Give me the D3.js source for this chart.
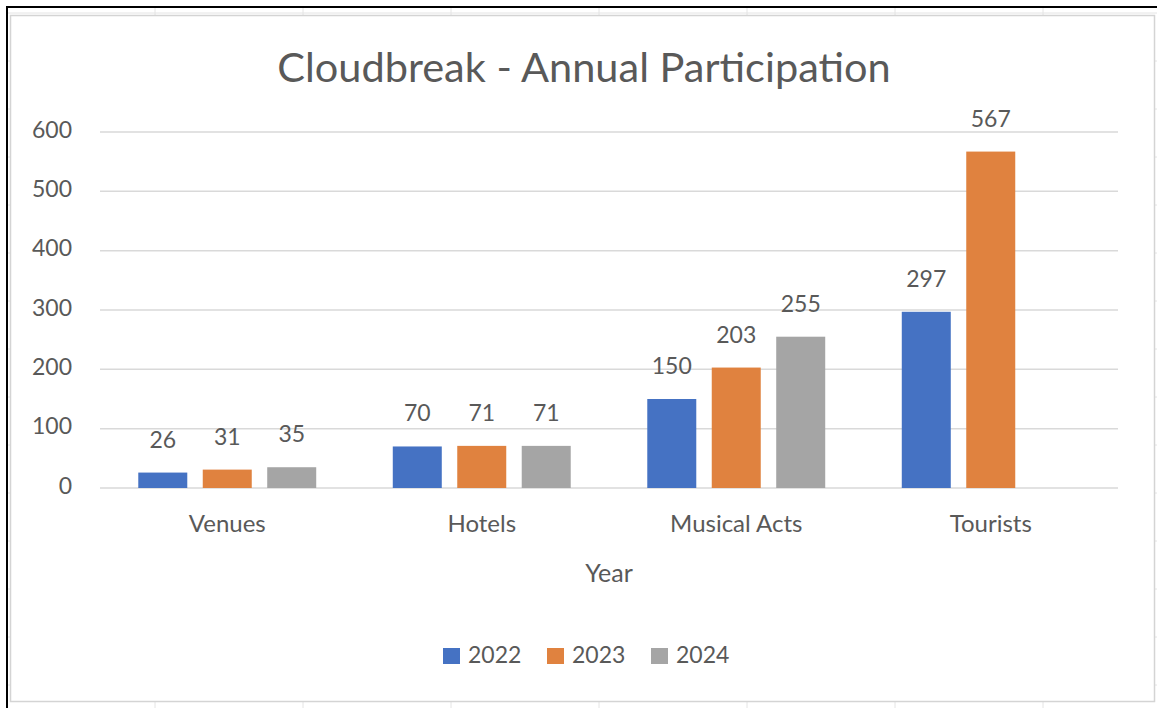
<!DOCTYPE html>
<html>
<head>
<meta charset="utf-8">
<script src="https://cdn.jsdelivr.net/npm/d3@7"></script>
<style>
  body { margin: 0; background: #fff; overflow: hidden; }
  svg { display: block; }
  svg text { font-family: Lato, "Open Sans", sans-serif; fill: #595959; }
</style>
</head>
<body>
<div id="chartHolder"></div>
<script>
const categories = ["Venues", "Hotels", "Musical Acts", "Tourists"];
const years = ["2022", "2023", "2024"];
const values2022 = [26, 70, 150, 297];
const values2023 = [31, 71, 203, 567];
const values2024 = [35, 71, 255, null];
const yTicks = [0, 100, 200, 300, 400, 500, 600];
const colors = ["#4572C3", "#E0823F", "#A5A5A5"];

const width = 1157;
const height = 708;

const svg = d3.select("#chartHolder")
  .append("svg")
  .attr("width", width)
  .attr("height", height);

// sheet grid behind the chart box
const colLines = d3.range(155, width, 148);
const rowLines = d3.range(13, height, 48);
svg.append("g").selectAll("line").data(colLines).enter().append("line")
  .attr("x1", d => d).attr("x2", d => d).attr("y1", 8).attr("y2", height)
  .attr("stroke", "#E4E4E4").attr("stroke-width", 1);
svg.append("g").selectAll("line").data(rowLines).enter().append("line")
  .attr("x1", 8).attr("x2", width).attr("y1", d => d).attr("y2", d => d)
  .attr("stroke", "#E4E4E4").attr("stroke-width", 1);

// chart box
svg.append("rect")
  .attr("x", 10.5).attr("y", 15.5)
  .attr("width", 1144).attr("height", 686)
  .attr("fill", "#fff")
  .attr("stroke", "#D4D4D4")
  .attr("stroke-width", 1.5);

// black frame lines
svg.append("line").attr("x1", 6).attr("x2", width).attr("y1", 7).attr("y2", 7)
  .attr("stroke", "#000").attr("stroke-width", 2);
svg.append("line").attr("x1", 7).attr("x2", 7).attr("y1", 6).attr("y2", height)
  .attr("stroke", "#000").attr("stroke-width", 2);

const plotLeft = 100, plotRight = 1118, plotTop = 132, plotBottom = 488;

const x0 = d3.scaleBand()
  .domain(categories)
  .range([plotLeft, plotRight])
  .paddingInner(0.24)
  .paddingOuter(0.12);

const x1 = d3.scaleBand()
  .domain(years)
  .range([0, x0.bandwidth()])
  .paddingInner(0.24)
  .paddingOuter(0.12);

const yScale = d3.scaleLinear()
  .domain([0, 600])
  .range([plotBottom, plotTop]);

// gridlines
svg.append("g").selectAll("line").data(yTicks).enter().append("line")
  .attr("x1", plotLeft).attr("x2", plotRight)
  .attr("y1", d => yScale(d)).attr("y2", d => yScale(d))
  .attr("stroke", "#D9D9D9").attr("stroke-width", 1.5);

// y axis labels
const yAxis = d3.axisLeft(yScale).tickValues(yTicks).tickSize(0).tickPadding(0);
const yG = svg.append("g")
  .attr("transform", `translate(72,0)`)
  .call(yAxis);
yG.select(".domain").remove();
yG.selectAll("text")
  .attr("dy", null)
  .attr("y", 5)
  .style("font-size", "23px")
  .style("font-family", "Lato, sans-serif")
  .attr("fill", "#595959");

// x axis labels
const xAxis = d3.axisBottom(x0).tickSize(0);
const xG = svg.append("g")
  .attr("transform", `translate(0,${plotBottom})`)
  .call(xAxis);
xG.select(".domain").remove();
xG.selectAll("text")
  .attr("dy", null)
  .attr("y", 44)
  .style("font-size", "24px")
  .style("font-family", "Lato, sans-serif")
  .attr("fill", "#595959");

// bars
const series = [values2022, values2023, values2024];
const rows = [];
categories.forEach((c, i) => {
  years.forEach((yr, j) => {
    const v = series[j][i];
    if (v != null) rows.push({ cat: c, year: yr, value: v, color: colors[j] });
  });
});

svg.append("g").selectAll("rect").data(rows).enter().append("rect")
  .attr("x", d => x0(d.cat) + x1(d.year))
  .attr("y", d => yScale(d.value))
  .attr("width", x1.bandwidth())
  .attr("height", d => plotBottom - yScale(d.value))
  .attr("fill", d => d.color);

svg.append("g").selectAll("text").data(rows).enter().append("text")
  .attr("x", d => x0(d.cat) + x1(d.year) + x1.bandwidth() / 2)
  .attr("y", d => yScale(d.value) - 25)
  .attr("text-anchor", "middle")
  .style("font-size", "23px")
  .text(d => d.value);

// title
svg.append("text")
  .attr("x", 584)
  .attr("y", 82)
  .attr("text-anchor", "middle")
  .style("font-size", "41.5px")
  .text("Cloudbreak - Annual Participation");

// axis title
svg.append("text")
  .attr("x", (plotLeft + plotRight) / 2)
  .attr("y", 582)
  .attr("text-anchor", "middle")
  .style("font-size", "25px")
  .text("Year");

// legend
const legend = svg.append("g").attr("transform", "translate(443,648)");
const item = legend.selectAll("g").data(years).enter().append("g")
  .attr("transform", (d, i) => `translate(${i * 104},0)`);
item.append("rect")
  .attr("width", 17).attr("height", 16)
  .attr("fill", (d, i) => colors[i]);
item.append("text")
  .attr("x", 25).attr("y", 15)
  .style("font-size", "23px")
  .text(d => d);
</script>
</body>
</html>
